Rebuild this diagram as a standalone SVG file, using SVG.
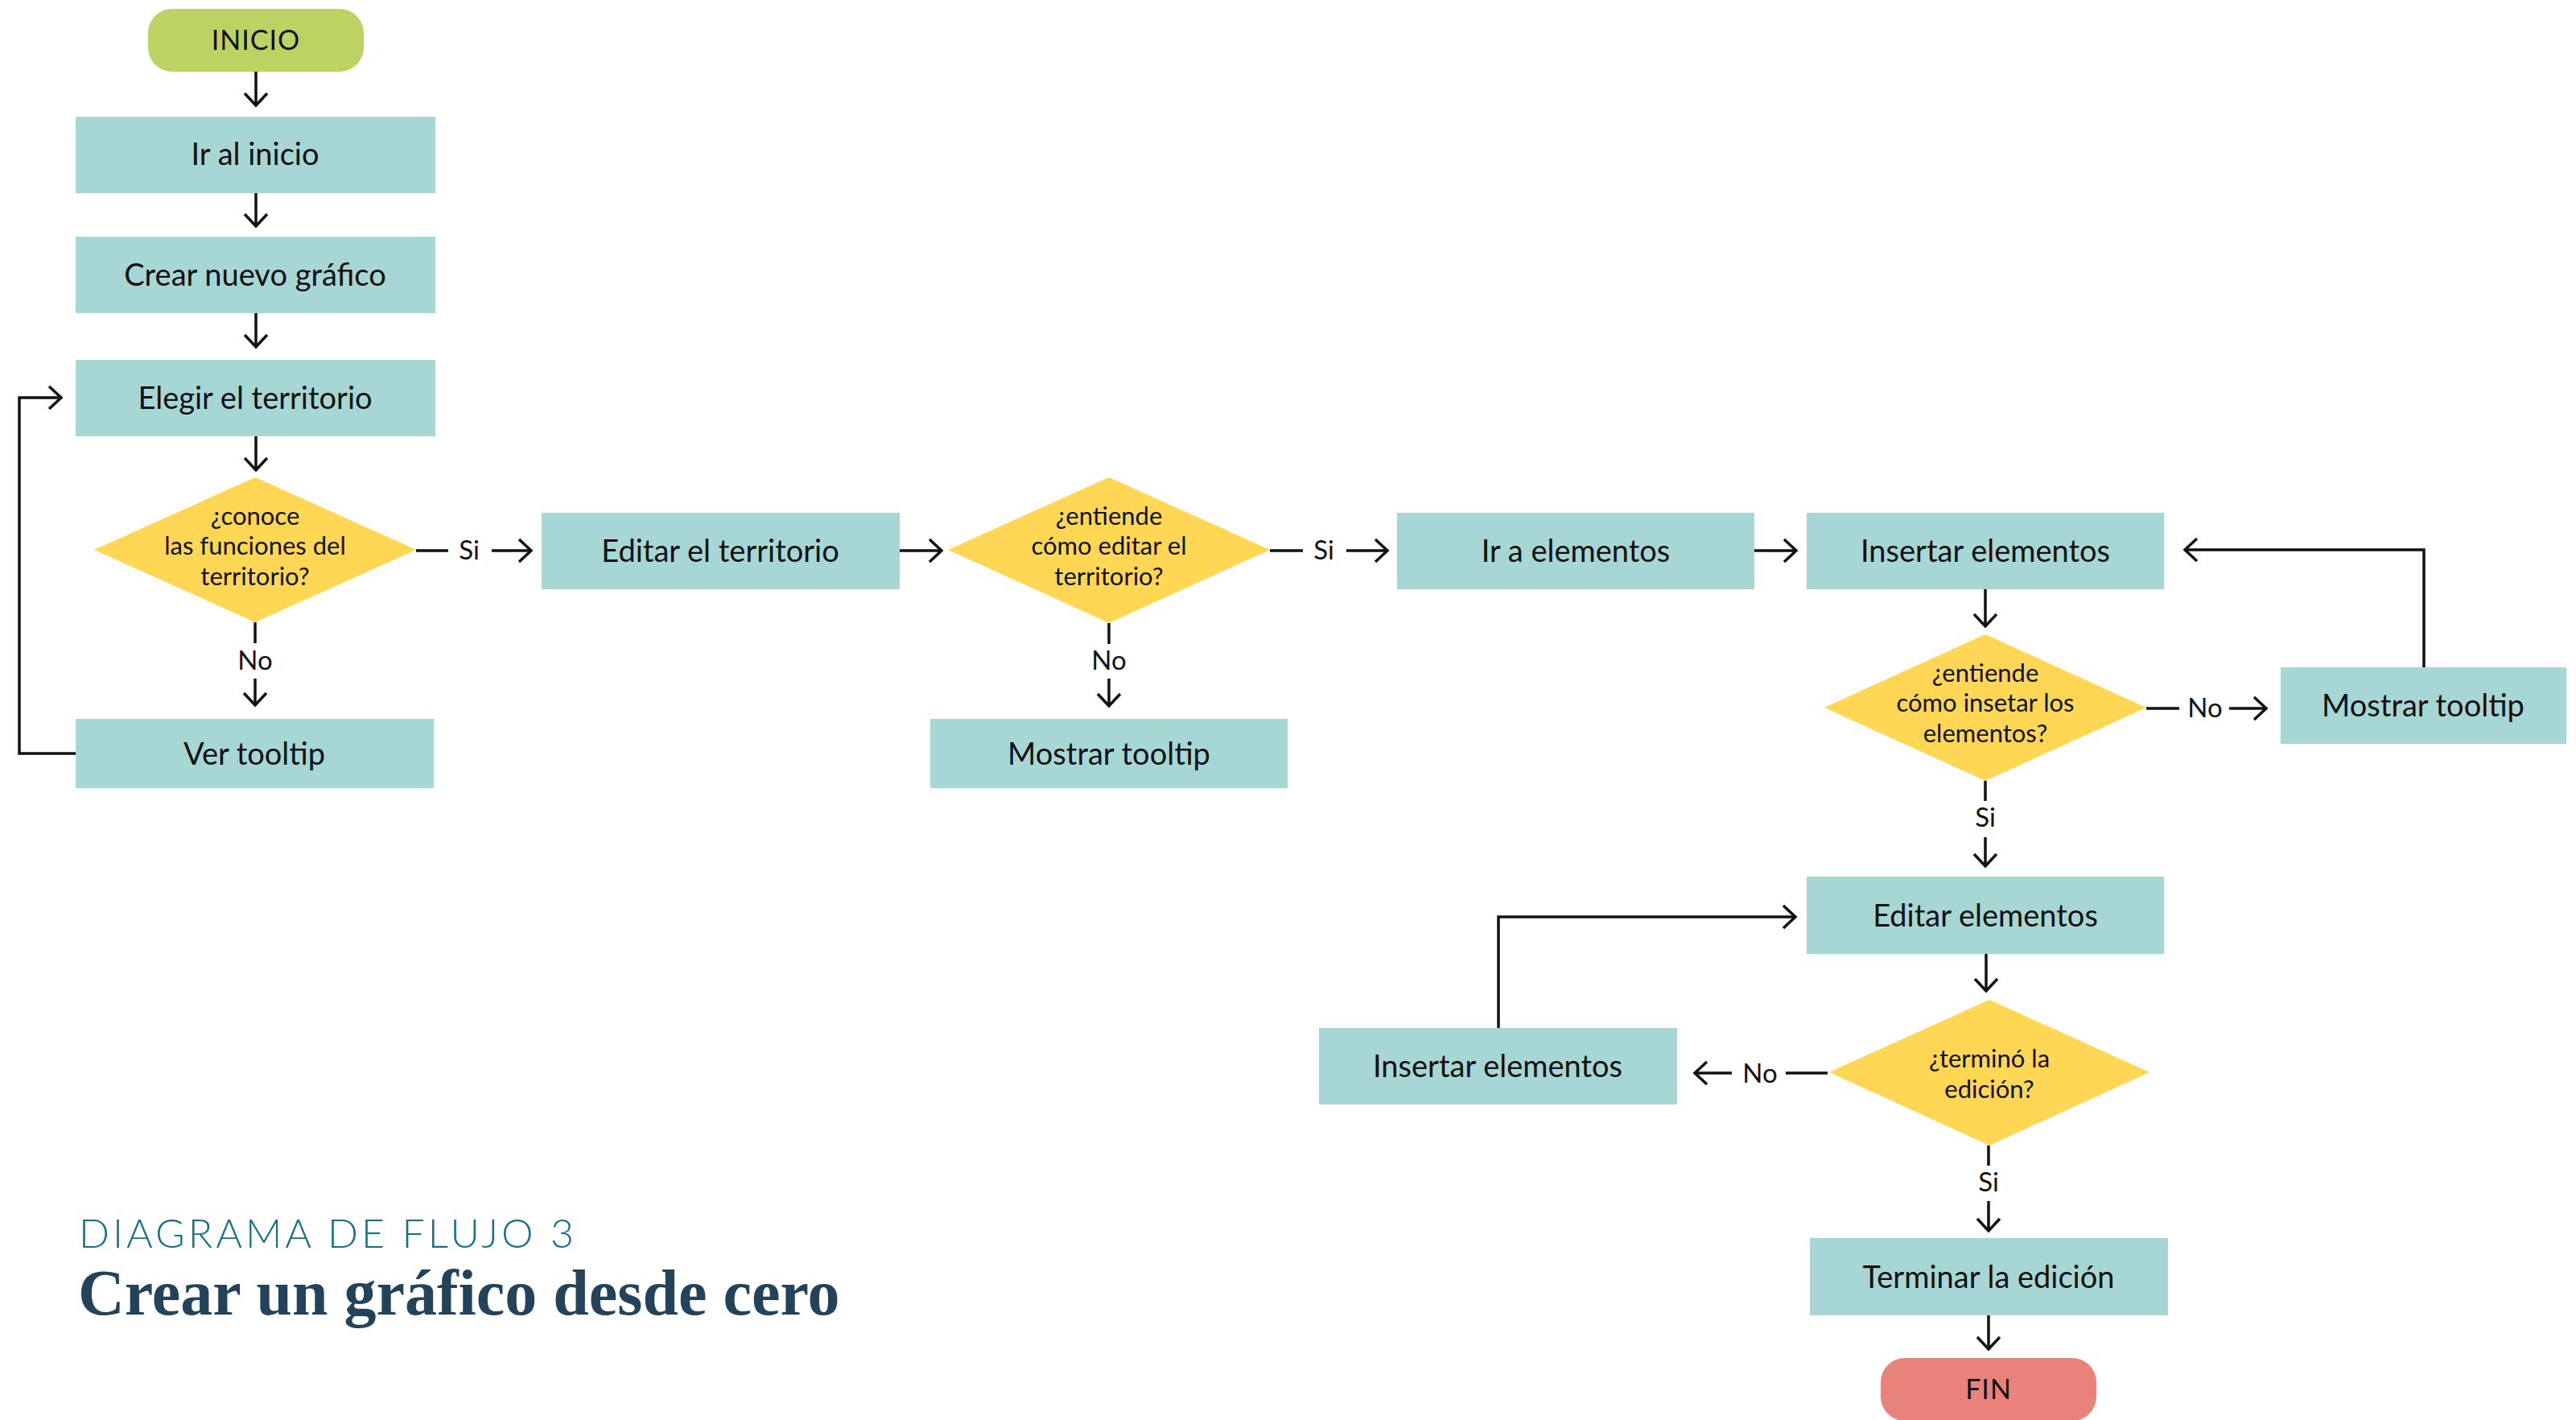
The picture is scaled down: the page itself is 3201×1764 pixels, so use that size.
<svg xmlns="http://www.w3.org/2000/svg" width="3201" height="1764" viewBox="0 0 3201 1764">
<style>
.box{fill:#A7D7D5}
.dia{fill:#FFD754}
.t{font-family:Lato,"Liberation Sans",sans-serif;font-size:38px;fill:#111;text-anchor:middle}
.dt{font-family:Lato,"Liberation Sans",sans-serif;font-size:31px;fill:#111;text-anchor:middle}
.lb{font-family:Lato,"Liberation Sans",sans-serif;font-size:33px;fill:#111;text-anchor:middle}
.term{font-family:Lato,"Liberation Sans",sans-serif;font-size:34px;fill:#111;text-anchor:middle;letter-spacing:1px}
.c{fill:none;stroke:#111;stroke-width:3.5}
.a{marker-end:url(#ah)}
</style>
<defs>
<marker id="ah" markerUnits="userSpaceOnUse" viewBox="-20 -20 24 40" refX="0" refY="0" markerWidth="24" markerHeight="40" orient="auto" overflow="visible">
<path d="M-15,-14 L0,0 L-15,14" fill="none" stroke="#111" stroke-width="3.5"/>
</marker>
</defs>
<rect width="3201" height="1764" fill="#fff"/>

<g id="connectors">
<line class="c a" x1="318" y1="89" x2="318" y2="131"/>
<line class="c a" x1="318" y1="240" x2="318" y2="281"/>
<line class="c a" x1="318" y1="389" x2="318" y2="431"/>
<line class="c a" x1="318" y1="542" x2="318" y2="584"/>
<line class="c" x1="517" y1="684" x2="557" y2="684"/>
<text class="lb" x="583" y="695">Si</text>
<line class="c a" x1="611" y1="684" x2="660" y2="684"/>
<line class="c" x1="317" y1="773" x2="317" y2="799"/>
<text class="lb" x="317" y="832">No</text>
<line class="c a" x1="317" y1="843" x2="317" y2="876"/>
<path class="c a" d="M94,936 H24 V494 H76"/>
<line class="c a" x1="1117" y1="684" x2="1170" y2="684"/>
<line class="c" x1="1578" y1="684" x2="1619" y2="684"/>
<text class="lb" x="1645" y="695">Si</text>
<line class="c a" x1="1673" y1="684" x2="1724" y2="684"/>
<line class="c" x1="1378" y1="774" x2="1378" y2="800"/>
<text class="lb" x="1378" y="832">No</text>
<line class="c a" x1="1378" y1="843" x2="1378" y2="877"/>
<line class="c a" x1="2180" y1="684" x2="2232" y2="684"/>
<line class="c a" x1="2467" y1="732" x2="2467" y2="778"/>
<line class="c" x1="2667" y1="880" x2="2708" y2="880"/>
<text class="lb" x="2740" y="891">No</text>
<line class="c a" x1="2770" y1="880" x2="2816" y2="880"/>
<path class="c a" d="M3012,829 V683 H2715"/>
<line class="c" x1="2467" y1="970" x2="2467" y2="995"/>
<text class="lb" x="2467" y="1027">Si</text>
<line class="c a" x1="2467" y1="1040" x2="2467" y2="1076"/>
<line class="c a" x1="2468" y1="1185" x2="2468" y2="1231"/>
<line class="c" x1="2271" y1="1333" x2="2219" y2="1333"/>
<text class="lb" x="2187" y="1345">No</text>
<line class="c a" x1="2152" y1="1333" x2="2106" y2="1333"/>
<path class="c a" d="M1862,1277 V1139 H2231"/>
<line class="c" x1="2471" y1="1423" x2="2471" y2="1448"/>
<text class="lb" x="2471" y="1480">Si</text>
<line class="c a" x1="2471" y1="1492" x2="2471" y2="1529"/>
<line class="c a" x1="2471" y1="1634" x2="2471" y2="1676"/>
</g>

<g id="inicio"><rect x="184" y="11" width="268" height="78" rx="30" fill="#BCD263"/><text class="term" x="318" y="62">INICIO</text></g>
<g id="ir-inicio"><rect class="box" x="94" y="145" width="447" height="95"/><text class="t" x="317" y="205">Ir al inicio</text></g>
<g id="crear-grafico"><rect class="box" x="94" y="294" width="447" height="95"/><text class="t" x="317" y="355">Crear nuevo gráfico</text></g>
<g id="elegir-territorio"><rect class="box" x="94" y="447" width="447" height="95"/><text class="t" x="317" y="508">Elegir el territorio</text></g>
<g id="d-conoce"><polygon class="dia" points="317,593 517,683 317,773 117,683"/>
<text class="dt" x="317" y="652">¿conoce</text><text class="dt" x="317" y="689">las funciones del</text><text class="dt" x="317" y="727">territorio?</text></g>
<g id="ver-tooltip"><rect class="box" x="94" y="893" width="445" height="86"/><text class="t" x="316" y="950">Ver tooltip</text></g>
<g id="editar-territorio"><rect class="box" x="673" y="637" width="445" height="95"/><text class="t" x="895" y="698">Editar el territorio</text></g>
<g id="d-editar"><polygon class="dia" points="1378,593 1578,683 1378,774 1178,683"/>
<text class="dt" x="1378" y="652">¿entiende</text><text class="dt" x="1378" y="689">cómo editar el</text><text class="dt" x="1378" y="727">territorio?</text></g>
<g id="mostrar-tooltip-1"><rect class="box" x="1156" y="893" width="444" height="86"/><text class="t" x="1378" y="950">Mostrar tooltip</text></g>
<g id="ir-elementos"><rect class="box" x="1736" y="637" width="444" height="95"/><text class="t" x="1958" y="698">Ir a elementos</text></g>
<g id="insertar-elementos-1"><rect class="box" x="2245" y="637" width="444" height="95"/><text class="t" x="2467" y="698">Insertar elementos</text></g>
<g id="d-insertar"><polygon class="dia" points="2467,788 2667,879 2467,970 2267,879"/>
<text class="dt" x="2467" y="847">¿entiende</text><text class="dt" x="2467" y="884">cómo insetar los</text><text class="dt" x="2467" y="922">elementos?</text></g>
<g id="mostrar-tooltip-2"><rect class="box" x="2834" y="829" width="355" height="95"/><text class="t" x="3011" y="890">Mostrar tooltip</text></g>
<g id="editar-elementos"><rect class="box" x="2245" y="1089" width="444" height="96"/><text class="t" x="2467" y="1151">Editar elementos</text></g>
<g id="d-termino"><polygon class="dia" points="2472,1242 2671,1332 2472,1423 2273,1332"/>
<text class="dt" x="2472" y="1326">¿terminó la</text><text class="dt" x="2472" y="1364">edición?</text></g>
<g id="insertar-elementos-2"><rect class="box" x="1639" y="1277" width="445" height="95"/><text class="t" x="1861" y="1338">Insertar elementos</text></g>
<g id="terminar-edicion"><rect class="box" x="2249" y="1538" width="445" height="96"/><text class="t" x="2471" y="1600">Terminar la edición</text></g>
<g id="fin"><rect x="2337" y="1687" width="268" height="78" rx="30" fill="#E8827B"/><text class="term" x="2471" y="1738">FIN</text></g>

<g id="title">
<text x="98" y="1550" font-family="Lato,'Liberation Sans',sans-serif" font-weight="300" font-size="50" letter-spacing="4" fill="#17708A">DIAGRAMA DE FLUJO 3</text>
<text x="97" y="1633" font-family="'Liberation Serif',serif" font-weight="bold" font-size="80" fill="#23435A">Crear un gráfico desde cero</text>
</g>
</svg>
